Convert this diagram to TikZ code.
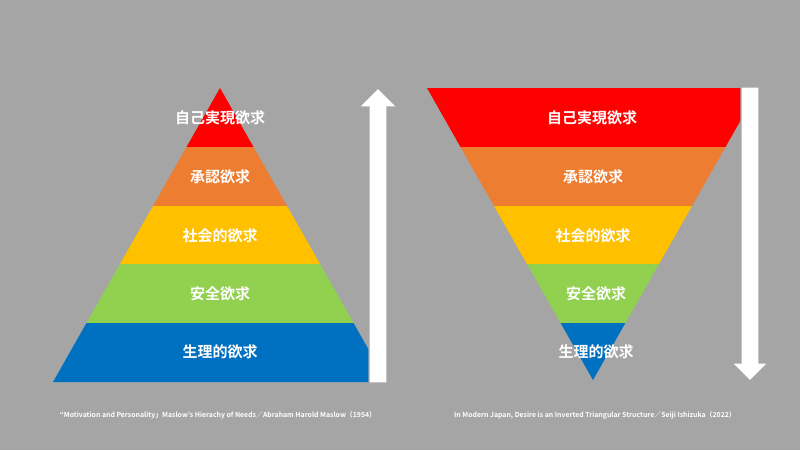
\documentclass[tikz,border=0pt]{standalone}
\usepackage{fontspec}
\setmainfont{Noto Sans CJK JP}[BoldFont={* Bold}]
\usepackage{tikz}

\definecolor{bgGray}{HTML}{A5A5A5}
\definecolor{needRed}{HTML}{FF0000}
\definecolor{needOrange}{HTML}{ED7D31}
\definecolor{needYellow}{HTML}{FFC000}
\definecolor{needGreen}{HTML}{92D050}
\definecolor{needBlue}{HTML}{0070C0}

\begin{document}
\begin{tikzpicture}[x=1pt, y=1pt, yscale=-1,
  bandlabel/.style={text=white, inner sep=0.75pt, font=\fontsize{15}{15}\selectfont\bfseries},
  sourcelabel/.style={text=white, inner sep=0.75pt, font=\fontsize{6.9}{7}\selectfont\bfseries},
  bigarrow/.style={fill=white, draw=bgGray, line width=1.2pt}]
\fill[bgGray] (0, 0) rectangle (800, 450);
\useasboundingbox (0, 0) rectangle (800, 450);
%Pyramid
\fill[needRed] (220, 88) -- (253.5, 147) -- (186.5, 147) -- cycle;
\fill[needOrange] (186.5, 147) -- (253.5, 147) -- (287, 206) -- (153, 206) -- cycle;
\fill[needYellow] (153, 206) -- (287, 206) -- (320, 264) -- (120, 264) -- cycle;
\fill[needGreen] (120, 264) -- (320, 264) -- (353.5, 323) -- (86.5, 323) -- cycle;
\fill[needBlue] (86.5, 323) -- (353.5, 323) -- (387, 382) -- (53, 382) -- cycle;
\draw[bigarrow] (369, 383) -- (369, 107) -- (359, 107) -- (378, 88) -- (397, 107) -- (387, 107) -- (387, 383) -- cycle;
%Inverted triangle
\fill[needRed] (427, 88) -- (759, 88) -- (725.5, 147) -- (460.5, 147) -- cycle;
\fill[needOrange] (460.5, 147) -- (725.5, 147) -- (692, 206) -- (494, 206) -- cycle;
\fill[needYellow] (494, 206) -- (692, 206) -- (659, 264) -- (527, 264) -- cycle;
\fill[needGreen] (527, 264) -- (659, 264) -- (625.4, 323) -- (560.6, 323) -- cycle;
\fill[needBlue] (560.6, 323) -- (625.4, 323) -- (593, 380) -- cycle;
\draw[bigarrow] (741, 87) -- (759, 87) -- (759, 363) -- (768, 363) -- (750, 381) -- (732, 363) -- (741, 363) -- cycle;
%Text
\node[bandlabel] (selfL) at (220, 118) {自己実現欲求};
\node[bandlabel] (esteemL) at (220, 177) {承認欲求};
\node[bandlabel] (socialL) at (220, 236) {社会的欲求};
\node[bandlabel] (safetyL) at (220, 294) {安全欲求};
\node[bandlabel] (physioL) at (220, 352) {生理的欲求};
\node[bandlabel] (selfR) at (592, 118) {自己実現欲求};
\node[bandlabel] (esteemR) at (593, 177) {承認欲求};
\node[bandlabel] (socialR) at (593, 236) {社会的欲求};
\node[bandlabel] (safetyR) at (596, 294) {安全欲求};
\node[bandlabel] (physioR) at (596, 352) {生理的欲求};
\node[sourcelabel] (maslowSrc) at (218, 415) {“Motivation and Personality」Maslow’s Hierachy of Needs／Abraham Harold Maslow（1954）};
\node[sourcelabel] (ishizukaSrc) at (595, 415) {In Modern Japan, Desire is an Inverted Triangular Structure／Seiji Ishizuka（2022）};
\end{tikzpicture}
\end{document}
